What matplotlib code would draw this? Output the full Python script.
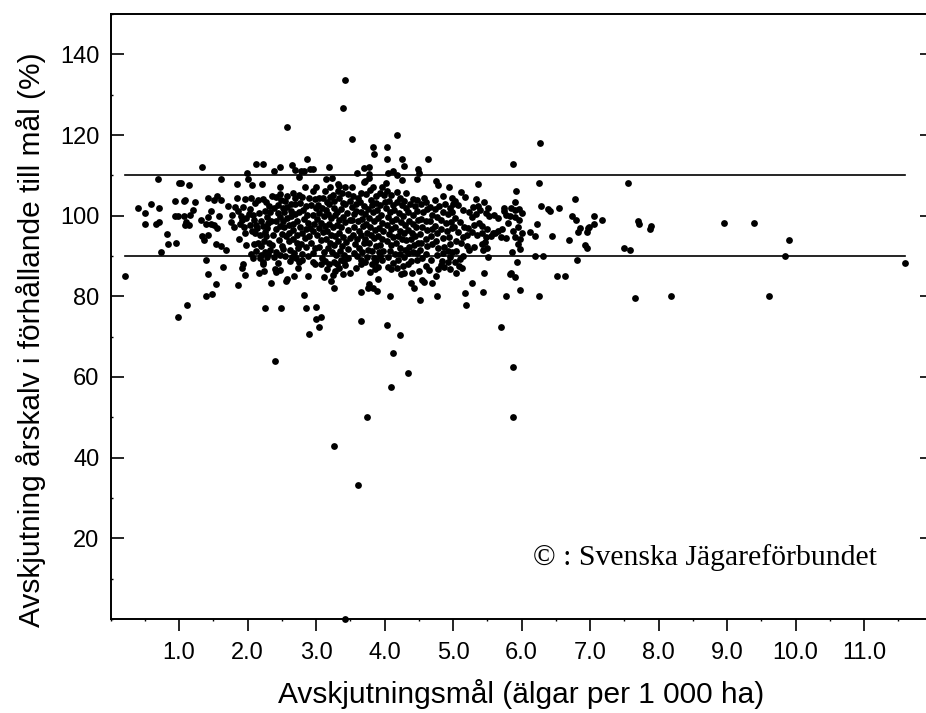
import matplotlib
matplotlib.use("Agg")
import matplotlib.pyplot as plt
from matplotlib.ticker import MultipleLocator

plt.rcParams["font.family"] = ["Liberation Sans", "DejaVu Sans"]

# ==========================================
#  DATA (x = mal, y = procent)
# ==========================================
target_limits = [90, 110]
x_ticks = [1, 2, 3, 4, 5, 6, 7, 8, 9, 10, 11]
x_labels = ["1.0", "2.0", "3.0", "4.0", "5.0", "6.0", "7.0", "8.0", "9.0", "10.0", "11.0"]
y_ticks = [20, 40, 60, 80, 100, 120, 140]

band_below_1 = [(0.21,85),(0.40,102),(0.51,100.7),(0.50,98),(0.59,102.8),(0.71,102),(0.71,98.5),(0.66,98),
    (0.70,109),(0.82,95.4),(0.84,93),(0.95,93.2),(0.74,91),(0.94,103.7),(0.94,100),(0.99,100),(0.99,74.8)]
band_1_2 = [(1.0,108.2),(1.03,108),(1.14,107.6),(1.09,103.8),(1.07,103.7),(1.24,103.4),(1.08,100),(1.16,100.1),
    (1.2,101.4),(1.1,98.5),(1.09,97.8),(1.15,97.7),(1.12,77.9),(1.34,112),(1.61,109.2),(1.39,89),(1.43,85.5),
    (1.54,83),(1.39,80),(1.48,80.6),(1.43,104.5),(1.51,104),(1.55,105),(1.62,104),(1.47,101.2),(1.43,99.7),
    (1.59,100),(1.32,99),(1.39,98),(1.46,98),(1.51,97.7),(1.56,97),(1.34,95),(1.42,95.3),(1.37,94),(1.54,93),
    (1.61,92.6),(1.69,91.5),(1.64,87.2),(1.72,102.5),(1.82,102.1),(1.93,102.1),(1.86,101.1),(1.77,100.2),
    (1.84,104.3),(1.97,104.1),(1.85,107.9),(1.99,110.5),(2.0,109.2),(1.93,88.1),(1.92,87),(1.86,82.9),(1.97,85.4),
    (1.9,100),(1.92,99),(1.98,99.5),(1.89,97.9),(1.95,97.3),(1.81,97.1),(1.97,95.7),(1.87,94.2),(1.98,92.8),(1.76,98.4)]
band_2_25 = [(2.07,107.5),(2.21,107.9),(2.13,112.7),(2.23,112.9),(2.17,85.7),(2.23,88.4),(2.23,87.9),(2.34,83.4),
    (2.26,77),(2.4,64),(2.05,104.3),(2.11,103.2),(2.15,103.9),(2.02,100.4),(2.04,101.6),(2.08,100.1),(2.09,98.9),(2.12,97.7),
    (2.17,100.6),(2.19,98.6),(2.03,97.8),(2.06,96.2),(2.11,95.8),(2.14,96.9),(2.18,95.1),(2.22,97.5),(2.25,101.1),
    (2.24,93.8),(2.2,92.4),(2.27,94.9),(2.1,92.9),(2.05,90.4),(2.16,93.3),(2.2,90.2),(2.08,89.6),(2.25,91),(2.12,91.2),
    (2.22,104.2),(2.27,103.5),(2.31,102.4),(2.33,100.8),(2.28,99.7),(2.36,104.9),(2.3,98.1),(2.26,95.9),(2.34,98.6),
    (2.29,97),(2.37,95.3),(2.31,93.1),(2.38,101.9),(2.33,91.6),(2.28,89.7),(2.36,92.7),(2.3,90.6),(2.24,86.3),(2.38,89.8),
    (2.42,90.9),(2.44,88.3),(2.18,89.4)]
band_25_3 = [(2.39,111.1),(2.47,112.1),(2.65,112.6),(2.69,111.2),(2.78,111),(2.82,111.1),(2.91,111.6),(2.96,111.5),
    (2.87,114.1),(2.75,109.5),(2.47,107),(2.84,107.1),(2.67,105.6),(2.75,105.1),(2.58,122.1),(2.4,86.9),(2.41,86.1),
    (2.47,86.5),(2.56,83.9),(2.58,84.4),(2.68,85),(2.74,87),(2.62,88.7),(2.75,88.4),(2.89,85),(2.96,88.6),(2.98,88.1),
    (2.49,77),(2.83,80.3),(2.86,77.1),(3.0,77.4),(3.0,74.4),(2.9,70.7),(2.41,104.6),(2.47,105.3),(2.55,103.6),(2.44,102.7),
    (2.49,103.9),(2.52,101.8),(2.57,104.8),(2.63,102.9),(2.7,104.4),(2.44,100.6),(2.48,99.7),(2.53,100.9),(2.58,102.1),(2.64,101.1),
    (2.7,102.8),(2.77,103.1),(2.8,104.6),(2.85,102.3),(2.9,104.4),(2.96,106.1),(2.41,98.7),(2.47,97.4),(2.52,98.8),(2.58,99.5),
    (2.64,99.9),(2.69,100.5),(2.75,100.9),(2.81,101.3),(2.87,100.2),(2.93,102.7),(2.98,104.2),(2.42,96.6),(2.5,95.4),(2.54,97.1),
    (2.6,97.7),(2.66,97.9),(2.72,98.6),(2.77,97.3),(2.83,99.1),(2.89,98.2),(2.95,100.1),(3.0,101.9),(2.46,94),(2.51,92.6),
    (2.56,94.9),(2.61,95.6),(2.67,96.4),(2.72,95.2),(2.79,95.8),(2.85,96.6),(2.91,97),(2.97,98),(2.6,93.7),(2.66,94.1),
    (2.72,93.2),(2.78,92.9),(2.84,94.4),(2.9,94.9),(2.96,96.1),(2.62,91.6),(2.68,90.7),(2.74,91.9),(2.8,90.6),(2.86,92.3),
    (2.92,93.1),(2.98,92.1),(2.55,89.9),(2.52,91.8),(2.65,89.7),(2.71,89.6),(2.8,89),(2.88,90.1),(2.95,90.8),(2.48,90.2)]
band_3_35 = [(3.19,112.1),(3.0,107.1),(3.07,87.9),(3.19,88.1),(3.31,88.1),(3.36,89),(3.25,85.2),(3.27,82),(3.07,75),
    (3.05,72.4),(3.27,43),(3.4,126.7),(3.42,133.6),(3.42,0),(3.15,109.1),(3.23,109.3),(3.32,107.9),(3.34,107.3),(3.43,107.1),
    (3.13,106),(3.2,107.1),(3.25,105.2),(3.32,106),(3.38,105.5),(3.05,104.4),(3.1,104.4),(3.16,103.4),(3.21,104.6),(3.27,103.7),
    (3.34,104.4),(3.39,103.1),(3.46,105.3),(3.03,102.6),(3.09,102),(3.14,101.5),(3.19,102.9),(3.26,102),(3.31,100.9),(3.37,101.7),
    (3.43,102.8),(3.49,103.6),(3.05,100.7),(3.11,99.9),(3.17,100.4),(3.22,99.3),(3.28,100.2),(3.34,99),(3.39,99.7),
    (3.45,100.6),(3.02,99.2),(3.08,98.1),(3.13,97.4),(3.19,97.9),(3.25,97.1),(3.31,97.8),(3.37,97.2),(3.43,98.4),(3.49,98.9),
    (3.04,96.9),(3.1,95.9),(3.16,96.2),(3.22,95.3),(3.28,94.9),(3.34,95.8),(3.4,94.7),(3.46,96.4),(3.02,95.1),(3.07,93.9),
    (3.14,94.3),(3.2,93.2),(3.26,92.7),(3.32,93.8),(3.38,92.6),(3.44,93.4),(3.5,94.4),(3.05,92.3),(3.11,91.1),(3.17,91.9),
    (3.23,90.9),(3.29,90.3),(3.35,91.3),(3.41,90.2),(3.47,91.7),(3.09,89.5),(3.13,88.8),(3.27,88.6),(3.34,87.1),(3.41,88.7),
    (3.47,89.6),(3.16,86.7),(3.28,86.3),(3.39,85.6),(3.43,87.8),(3.49,85.9),(3.12,84.8),(3.22,83.9)]
band_35_4 = [(3.53,119),(3.6,110.5),(3.7,111.8),(3.77,112.1),(3.83,117.1),(3.84,115.3),(3.78,110.3),(3.7,108.4),(3.78,109.3),
    (3.71,108.6),(3.83,107.1),(3.79,106.4),(3.97,107),(3.58,87),(3.65,88),(3.65,89),(3.79,86),(3.86,86.8),(3.9,87.3),
    (3.65,81),(3.76,82),(3.78,83),(3.83,82.1),(3.89,81.2),(3.91,84.3),(3.65,74),(3.61,33.3),(3.75,50),(3.53,107.1),(3.66,105.6),
    (3.54,104.9),(3.61,104.4),(3.73,105.4),(3.8,103.9),(3.87,104.8),(3.93,105.7),(3.99,105.1),(3.52,102.1),(3.58,102.9),(3.64,103.3),
    (3.7,102.4),(3.76,101.6),(3.82,102.7),(3.88,103.2),(3.94,102.6),(4.0,103.4),(3.55,100.4),(3.59,101.1),(3.65,100.9),(3.71,100.3),
    (3.77,99.4),(3.83,100.8),(3.89,101.3),(3.95,100.1),(3.53,99),(3.61,98.6),(3.67,99.2),(3.73,97.9),(3.79,97.2),(3.85,98.7),
    (3.91,99.3),(3.97,98.1),(3.56,97.1),(3.63,96.3),(3.69,97.4),(3.74,95.8),(3.81,95.1),(3.86,96.5),(3.92,97),(3.98,96.2),
    (3.54,95.2),(3.6,94.2),(3.66,95.2),(3.72,94.1),(3.78,93.2),(3.84,94.4),(3.9,94.9),(3.96,94.2),(3.57,92.9),(3.63,92.1),
    (3.7,93.1),(3.76,91.6),(3.82,91.3),(3.88,92.5),(3.94,92.8),(3.55,90.7),(3.67,90.9),(3.75,89.8),(3.84,89.4),(3.92,90.9),
    (3.98,91.3),(3.6,90),(3.72,88.4),(3.88,89.1),(3.96,88.9),(3.93,90),(3.86,88.6),(3.82,87.9)]
band_4_45 = [(4.03,117.1),(4.03,114.1),(4.05,110.7),(4.12,111.1),(4.18,120),(4.26,114.1),(4.28,112.3),(4.18,110.2),(4.25,108.8),
    (4.02,108.1),(4.31,105.5),(4.18,105.9),(4.03,72.9),(4.22,70.4),(4.12,66),(4.35,61),(4.09,57.4),(4.08,80.1),(4.24,85.6),
    (4.39,83.4),(4.43,82),(4.4,85.9),(4.03,106.1),(4.1,105.1),(4.22,104.3),(4.29,103.7),(4.41,104.2),(4.06,103.6),(4.12,102.7),
    (4.18,103.4),(4.25,102.6),(4.31,101.9),(4.37,103),(4.44,102.4),(4.02,101.8),(4.08,100.9),(4.14,101.4),(4.21,100.7),(4.27,99.8),
    (4.34,100.9),(4.41,100.2),(4.47,101.2),(4.05,99.6),(4.11,98.7),(4.17,99.2),(4.24,98.4),(4.3,97.6),(4.36,98.7),(4.42,97.9),
    (4.49,99),(4.03,97.7),(4.1,96.7),(4.16,97.1),(4.22,96.2),(4.28,95.6),(4.34,96.4),(4.4,95.8),(4.46,97.2),(4.06,95.5),(4.13,94.7),
    (4.19,95),(4.26,94.1),(4.32,93.9),(4.39,94.3),(4.45,95),(4.04,93.7),(4.1,92.8),(4.17,93.2),(4.23,92.1),(4.3,91.6),(4.36,92.2),
    (4.43,92.7),(4.49,93.1),(4.08,91.2),(4.15,90.6),(4.22,90.4),(4.29,89.8),(4.35,90.8),(4.42,91),(4.48,90.7),(4.05,89.7),(4.12,88.3),
    (4.2,88.9),(4.27,87.4),(4.34,88.1),(4.38,88.8),(4.47,89),(4.1,86.9),(4.18,87),(4.28,85.9),(4.05,87.2)]
band_45_5 = [(4.49,111.6),(4.5,110.7),(4.47,109.2),(4.64,114.1),(4.75,108.7),(4.78,107.7),(4.94,107.1),(4.85,104.8),(4.98,104.3),
    (4.73,104),(4.57,104.5),(4.47,104),(4.52,79),(4.76,80.1),(4.75,85),(4.7,83.4),(4.55,84),(4.57,83.6),(4.5,86.4),(5.04,85.7),
    (4.53,102.8),(4.6,103.4),(4.66,102.1),(4.73,101.6),(4.8,102.3),(4.88,102.9),(4.95,101.9),(5.0,103),(4.56,101),(4.62,101.7),
    (4.7,100.2),(4.77,99.7),(4.85,100.9),(4.92,100.3),(4.98,100.9),(4.53,99.1),(4.6,98.6),(4.67,98.7),(4.74,97.4),(4.82,98.9),
    (4.9,98.2),(4.97,98.5),(4.55,97.2),(4.62,96.4),(4.69,96.8),(4.76,95.8),(4.83,96.6),(4.91,96.2),(4.98,96.9),(4.52,95.4),(4.6,94.3),
    (4.68,95),(4.75,93.6),(4.85,94.4),(4.94,94.7),(4.54,93.2),(4.62,92.5),(4.7,92.9),(4.78,92.1),(4.87,92.3),(4.96,93),(4.52,91.4),
    (4.6,90.5),(4.76,90.3),(4.85,90.8),(4.93,91.3),(4.99,91.1),(4.55,89.4),(4.68,88.9),(4.84,88.7),(4.95,89.7),(4.92,88.4),(4.82,87.7),
    (4.87,87.2),(4.96,86.9),(4.78,86.8),(4.6,87.6),(4.65,86.5)]
band_5_6 = [(5.12,105.9),(5.18,104.6),(5.37,107.8),(5.34,104.1),(5.45,103.3),(5.51,102),(5.29,102.1),(5.36,102.4),(5.75,102),
    (5.88,112.7),(5.92,106.1),(5.91,103.4),(5.28,83.4),(5.45,85.9),(5.13,87),(5.18,80.8),(5.19,77.8),(5.44,81),(5.78,80),(5.98,81.5),
    (5.85,85.9),(5.83,85.5),(5.91,84.9),(5.93,88.6),(5.86,91),(5.51,89.8),(5.15,90),(5.87,62.4),(5.87,50),(5.7,72.4),(5.03,103.6),
    (5.08,102.7),(5.14,101.4),(5.24,100.9),(5.28,99.6),(5.34,100.3),(5.4,101.3),(5.48,100.6),(5.53,99.8),(5.6,100.2),(5.65,99.4),(5.74,101.2),
    (5.78,100.1),(5.84,101.8),(5.9,101.3),(5.96,101.6),(6.0,100.7),(5.03,99.3),(5.1,98.4),(5.16,97.3),(5.22,96.9),(5.3,97.7),(5.38,98.1),
    (5.43,97.4),(5.5,96.8),(5.58,95.7),(5.66,96.3),(5.72,96.8),(5.8,98.2),(5.83,99.8),(5.9,99.6),(5.97,99),(5.02,97.2),(5.08,95.9),(5.14,94.8),
    (5.2,95.2),(5.28,95.9),(5.35,95.2),(5.42,95.6),(5.48,94.6),(5.55,95),(5.62,95.6),(5.7,94.8),(5.77,94.5),(5.88,96.3),(5.95,97.3),(6.0,95.8),
    (5.98,94.2),(5.9,94.8),(5.05,93.7),(5.12,93.1),(5.2,92.6),(5.3,92.3),(5.42,92.9),(5.46,93.5),(5.5,92),(5.05,91.3),(5.1,89.3),(5.23,91.5),
    (5.44,91.5),(5.95,92.9),(5.98,91.7),(5.03,88.5),(5.09,87.6)]
band_6_7 = [(6.27,118.1),(6.25,108.1),(6.28,102.5),(6.38,101.7),(6.41,101.1),(6.55,102),(6.78,104.1),(6.73,100),(6.79,99),(6.22,98),
    (6.13,96),(6.2,95),(6.44,95),(6.69,94),(6.2,90),(6.32,90),(6.81,89),(6.52,85),(6.64,85),(6.25,80),(6.83,96),(6.85,96.9),(6.97,97),
    (6.99,97.1),(6.95,96),(6.92,92.8),(6.95,91.9)]
band_above_7 = [(7.06,100),(7.17,99),(7.06,98),(7.55,108.1),(7.5,91.9),(7.58,91.4),(7.7,98.8),(7.72,97.9),(7.87,96.6),(7.89,97.4),
    (7.65,79.7),(8.18,80),(8.96,98.1),(9.4,98.1),(9.61,80),(9.85,90),(9.9,94),(11.6,88.2)]

bands = [band_below_1, band_1_2, band_2_25, band_25_3, band_3_35, band_35_4, band_4_45, band_45_5, band_5_6, band_6_7, band_above_7]

# ==========================================
#  PLOT
# ==========================================
# right spine falls just outside the picture, as in the original crop
fig = plt.figure(figsize=(9.26, 7.13), dpi=100)
ax = fig.add_axes([110.5 / 926, 1 - 619 / 713, (932.5 - 110.5) / 926, (619 - 14) / 713])

for band in bands:
    xs = [p[0] for p in band]
    ys = [p[1] for p in band]
    ax.scatter(xs, ys, s=24, color="black", linewidths=0, clip_on=False, zorder=3)

for lim in target_limits:
    ax.plot([0.21, 11.6], [lim, lim], color="black", lw=1.2, zorder=2)

ax.set_xlim(0, 12)
ax.set_ylim(0, 150)

ax.set_xticks(x_ticks)
ax.set_xticklabels(x_labels)
ax.xaxis.set_minor_locator(MultipleLocator(0.5))
ax.set_yticks(y_ticks)
ax.yaxis.set_minor_locator(MultipleLocator(10))

ax.tick_params(axis="x", which="major", direction="out", length=8.5, width=1.2, labelsize=17, pad=8)
ax.tick_params(axis="x", which="minor", direction="out", length=1.5, width=1)
ax.tick_params(axis="y", which="major", direction="in", length=9.5, width=1.2, labelsize=17, pad=8, right=True)
ax.tick_params(axis="y", which="minor", direction="in", length=1.5, width=1, right=True)

for side in ax.spines.values():
    side.set_linewidth(1.4)

ax.set_xlabel("Avskjutningsmål (älgar per 1 000 ha)", fontsize=21.5, labelpad=11)
ax.set_ylabel("Avskjutning årskalv i förhållande till mål (%)", fontsize=21.5, labelpad=10, y=0.461)

ax.text(6.17, 15.3, "© : Svenska Jägareförbundet", fontsize=21.4, family="Liberation Serif", va="center")

fig.savefig("out.png", dpi=100)
